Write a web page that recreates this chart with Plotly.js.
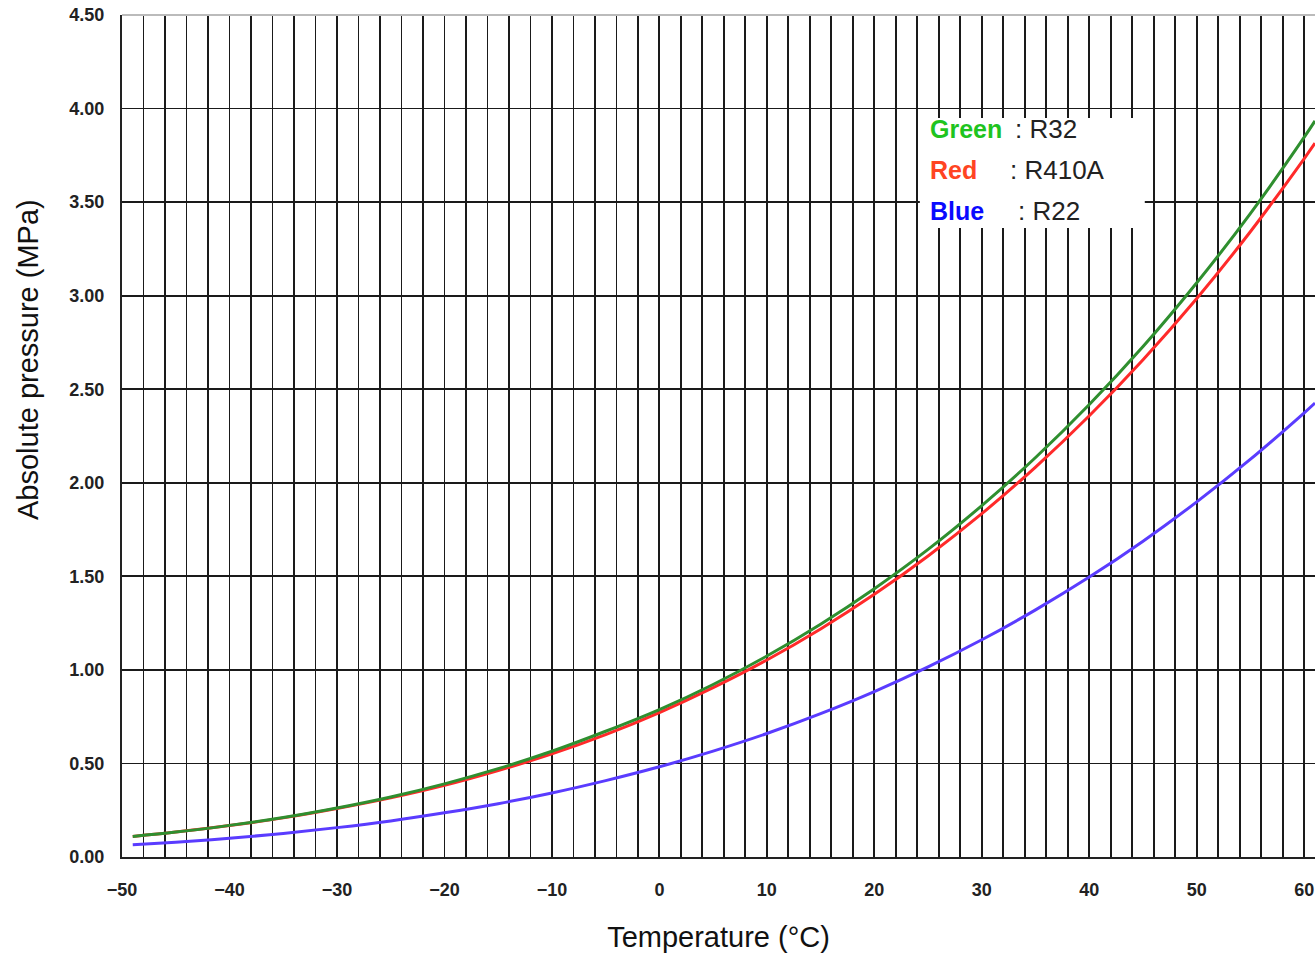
<!DOCTYPE html>
<html>
<head>
<meta charset="utf-8">
<script src="https://cdn.plot.ly/plotly-3.0.1.min.js"></script>
<style>html,body{margin:0;padding:0;background:#fff;}#chart{width:1315px;height:955px;}</style>
</head>
<body>
<div id="chart"></div>
<script>
// Temperature (°C) as read along the chart's x axis
var temps = [-49, -45, -40, -35, -30, -25, -20, -15, -10, -5, 0, 5, 10, 15, 20, 25, 30, 35, 40, 45, 50, 55, 60, 61];
// Absolute pressure (MPa)
var r32   = [0.110, 0.133, 0.169, 0.211, 0.262, 0.321, 0.391, 0.472, 0.565, 0.672, 0.788, 0.922, 1.074, 1.244, 1.434, 1.644, 1.878, 2.135, 2.418, 2.728, 3.069, 3.440, 3.847, 3.934];
var r410a = [0.110, 0.133, 0.168, 0.209, 0.259, 0.316, 0.383, 0.462, 0.551, 0.654, 0.772, 0.905, 1.053, 1.219, 1.404, 1.609, 1.835, 2.084, 2.358, 2.658, 2.985, 3.343, 3.733, 3.815];
var r22   = [0.065, 0.079, 0.100, 0.126, 0.157, 0.193, 0.236, 0.285, 0.342, 0.408, 0.482, 0.566, 0.660, 0.766, 0.884, 1.016, 1.161, 1.321, 1.496, 1.688, 1.898, 2.126, 2.374, 2.426];

var legendWords = ["Green", "Red", "Blue"];
var legendNames = [": R32", ": R410A", ": R22"];
var xTickVals = [-50, -40, -30, -20, -10, 0, 10, 20, 30, 40, 50, 60];
var yTickVals = [0, 0.5, 1, 1.5, 2, 2.5, 3, 3.5, 4, 4.5];
var xTitle = "Temperature (°C)";
var yTitle = "Absolute pressure (MPa)";

var font = "Liberation Sans, Arial, sans-serif";

var traces = [
  {x: temps, y: r22, mode: "lines", line: {color: "#5a3cff", width: 3, shape: "spline"}, name: "R22"},
  {x: temps, y: r410a, mode: "lines", line: {color: "#ff2a2a", width: 3, shape: "spline"}, name: "R410A"},
  {x: temps, y: r32, mode: "lines", line: {color: "#2f8f2f", width: 3, shape: "spline"}, name: "R32"}
];

// pixel helpers for legend box placement
function px2x(px){ return -50 + (px - 122) / 10.75; }
function py2y(py){ return (857 - py) / 187.1; }

var wordColors = ["#1fc41f", "#ff4422", "#0a0aff"];
var wordY = [129, 170, 211];
var nameX = [1013, 1008, 1016];
var annotations = [];
for (var i = 0; i < 3; i++) {
  annotations.push({x: px2x(928), y: py2y(wordY[i]), xref: "x", yref: "y", xanchor: "left", yanchor: "middle",
    text: "<b>" + legendWords[i] + "</b>", showarrow: false, font: {family: font, size: 25, color: wordColors[i]}});
  annotations.push({x: px2x(nameX[i]), y: py2y(wordY[i]), xref: "x", yref: "y", xanchor: "left", yanchor: "middle",
    text: legendNames[i], showarrow: false, font: {family: font, size: 26, color: "#222"}});
}
// y axis title (sits above centre in the original)
annotations.push({xref: "paper", yref: "paper", x: (28 - 122) / 1193, y: (857 - 360) / 842, xanchor: "center", yanchor: "middle",
  text: yTitle, textangle: -90, showarrow: false, font: {family: font, size: 29, color: "#111"}});

var layout = {
  width: 1315, height: 955,
  margin: {l: 122, r: 0, t: 15, b: 98},
  paper_bgcolor: "#fff", plot_bgcolor: "#fff",
  showlegend: false,
  xaxis: {
    range: [-50, 61], tickvals: xTickVals, ticks: "", showgrid: true, gridcolor: "#1a1a1a", gridwidth: 1.8,
    minor: {dtick: 2, showgrid: true, gridcolor: "#1a1a1a", gridwidth: 1.8},
    zeroline: false, showline: true, linecolor: "#222", linewidth: 2,
    ticklabelstandoff: 15,
    tickfont: {family: font, size: 18, color: "#222", weight: "bold"},
    title: {text: xTitle, font: {family: font, size: 29, color: "#111"}, standoff: 28}
  },
  yaxis: {
    range: [0, 4.5], tickvals: yTickVals, tickformat: ".2f", ticks: "", showgrid: true, gridcolor: "#1a1a1a", gridwidth: 1.8,
    zeroline: false, showline: true, linecolor: "#222", linewidth: 2,
    ticklabelstandoff: 12,
    tickfont: {family: font, size: 18, color: "#222", weight: "bold"}
  },
  shapes: [
    {type: "rect", xref: "x", yref: "y", x0: px2x(920), x1: px2x(1145), y0: py2y(228), y1: py2y(118),
     fillcolor: "#fff", line: {width: 0}, layer: "above"},
    {type: "line", xref: "paper", yref: "paper", x0: 0, x1: 1, y0: 1, y1: 1, line: {color: "#bbb", width: 2}}
  ],
  annotations: annotations
};

Plotly.newPlot("chart", traces, layout, {displayModeBar: false, staticPlot: true});
</script>
</body>
</html>
